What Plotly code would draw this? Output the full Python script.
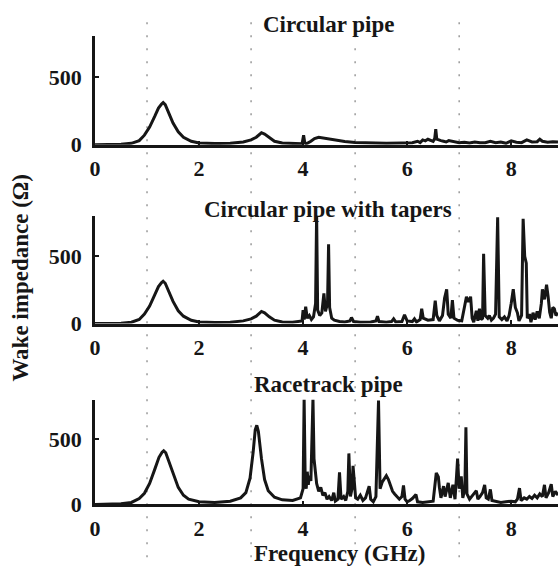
import plotly.graph_objects as go

# ---------------- data ----------------
panel_titles = ["Circular pipe", "Circular pipe with tapers", "Racetrack pipe"]
x_ticks = [0, 2, 4, 6, 8]
y_ticks = [0, 500]
guide_freqs = [1, 3, 5, 7]

freq_circ = [0, 0.3, 0.5, 0.7, 0.85, 0.95, 1.05, 1.15, 1.22, 1.28, 1.31, 1.35, 1.42, 1.5, 1.6,
             1.7, 1.85, 2.0, 2.3, 2.6, 2.85, 3.0, 3.1, 3.16, 3.2, 3.26, 3.35, 3.45, 3.6, 3.8,
             3.98, 4.01, 4.03, 4.05, 4.08, 4.15, 4.22, 4.3, 4.38, 4.5, 4.65, 4.8, 5.0, 5.3,
             5.6, 5.9, 6.1, 6.2, 6.25, 6.3, 6.35, 6.4, 6.45, 6.5, 6.53, 6.55, 6.57, 6.6, 6.65,
             6.7, 6.75, 6.8, 6.9, 7.0, 7.1, 7.2, 7.3, 7.4, 7.5, 7.6, 7.7, 7.8, 7.9, 8.0, 8.1,
             8.2, 8.3, 8.4, 8.5, 8.55, 8.6, 8.7, 8.8, 8.9]
imp_circ = [0, 1, 3, 10, 30, 70, 130, 210, 270, 300, 310, 295, 235, 160, 95,
            55, 25, 12, 8, 10, 20, 35, 55, 75, 88, 78, 50, 25, 12, 8,
            6, 70, 20, 8, 10, 25, 45, 55, 50, 42, 32, 24, 16, 12,
            10, 12, 15, 25, 15, 35, 28, 40, 30, 25, 45, 115, 40, 35, 30,
            25, 20, 30, 22, 15, 18, 12, 20, 14, 15, 25, 15, 20, 10, 28, 18,
            15, 35, 20, 22, 40, 25, 18, 22, 20]

freq_taper = [0, 0.3, 0.5, 0.7, 0.85, 0.95, 1.05, 1.15, 1.22, 1.28, 1.31, 1.35, 1.42, 1.5, 1.6,
              1.7, 1.85, 2.0, 2.3, 2.6, 2.85, 3.0, 3.1, 3.16, 3.2, 3.26, 3.35, 3.45, 3.6, 3.8,
              3.98, 4.0, 4.02, 4.05, 4.08, 4.12, 4.16, 4.2, 4.24, 4.26, 4.28, 4.32, 4.36, 4.4,
              4.43, 4.47, 4.49, 4.51, 4.55, 4.6, 4.7, 4.8, 4.9, 4.93, 4.97, 5.1, 5.3, 5.4, 5.43,
              5.46, 5.6, 5.7, 5.74, 5.78, 5.9, 5.95, 6.0, 6.1, 6.14, 6.18, 6.25, 6.28, 6.31,
              6.4, 6.5, 6.54, 6.57, 6.62, 6.68, 6.72, 6.76, 6.79, 6.84, 6.87, 6.9, 6.97, 7.05,
              7.1, 7.14, 7.18, 7.22, 7.25, 7.28, 7.33, 7.36, 7.39, 7.42, 7.45, 7.47, 7.5, 7.55,
              7.58, 7.62, 7.66, 7.7, 7.74, 7.77, 7.82, 7.87, 7.92, 7.96, 8.0, 8.04, 8.08, 8.12,
              8.15, 8.2, 8.23, 8.26, 8.29, 8.31, 8.35, 8.38, 8.42, 8.46, 8.5, 8.54, 8.58, 8.6,
              8.64, 8.68, 8.71, 8.74, 8.77, 8.8, 8.83, 8.86, 8.9]
imp_taper = [0, 1, 3, 10, 30, 70, 130, 215, 275, 305, 315, 300, 240, 165, 95,
             55, 25, 12, 8, 10, 20, 35, 55, 75, 90, 80, 50, 25, 12, 10,
             20, 100, 30, 125, 40, 60, 30, 50, 150, 820, 100, 60, 80, 225,
             90, 150, 590, 120, 40, 25, 15, 12, 20, 45, 15, 10, 12, 20, 55,
             15, 10, 15, 35, 12, 15, 65, 20, 15, 35, 12, 30, 110, 40,
             25, 30, 170, 60, 20, 60, 190, 255, 70, 40, 175, 40, 25, 20,
             120, 200, 160, 200, 40, 10, 95, 20, 110, 30, 40, 520, 60, 40,
             60, 25, 40, 70, 790, 50, 30, 50, 20, 60, 150, 255, 120, 80,
             20, 60, 780, 500, 450, 40, 70, 10, 80, 30, 90, 40, 150, 255,
             180, 290, 200, 85, 40, 120, 110, 60, 80]

freq_race = [0, 0.3, 0.5, 0.7, 0.85, 0.95, 1.05, 1.15, 1.23, 1.29, 1.32, 1.36, 1.44, 1.52, 1.6,
             1.7, 1.8, 2.0, 2.3, 2.6, 2.8, 2.9, 2.98, 3.04, 3.08, 3.11, 3.14, 3.2, 3.26, 3.33,
             3.45, 3.6, 3.8, 3.95, 4.0, 4.02, 4.04, 4.06, 4.08, 4.1, 4.12, 4.15, 4.17, 4.19,
             4.21, 4.23, 4.26, 4.3, 4.34, 4.38, 4.42, 4.46, 4.5, 4.55, 4.59, 4.62, 4.67, 4.7,
             4.73, 4.78, 4.82, 4.86, 4.88, 4.91, 4.94, 4.96, 4.98, 5.01, 5.05, 5.1, 5.15, 5.2,
             5.27, 5.3, 5.35, 5.4, 5.45, 5.48, 5.52, 5.56, 5.6, 5.64, 5.68, 5.72, 5.76, 5.8,
             5.85, 5.9, 5.93, 5.96, 6.0, 6.05, 6.1, 6.17, 6.2, 6.3, 6.4, 6.5, 6.56, 6.6, 6.62,
             6.65, 6.7, 6.73, 6.79, 6.83, 6.88, 6.92, 6.95, 6.97, 7.0, 7.04, 7.07, 7.11, 7.13,
             7.15, 7.2, 7.25, 7.3, 7.33, 7.36, 7.4, 7.45, 7.49, 7.52, 7.56, 7.6, 7.63, 7.7,
             7.8, 7.9, 8.0, 8.08, 8.12, 8.16, 8.19, 8.25, 8.3, 8.35, 8.4, 8.45, 8.5, 8.55,
             8.6, 8.64, 8.67, 8.72, 8.77, 8.8, 8.85, 8.9]
imp_race = [0, 2, 5, 15, 45, 85, 160, 270, 360, 400, 410, 395, 310, 210, 130,
            70, 40, 20, 15, 25, 50, 90, 200, 400, 570, 605, 560, 350, 190, 105,
            55, 35, 30, 50, 120, 810, 200, 120, 250, 150, 220, 180, 480, 810,
            350, 250, 160, 100, 130, 70, 90, 40, 60, 30, 90, 25, 40, 245,
            40, 60, 30, 100, 390, 60, 120, 295, 180, 50, 40, 70, 30, 50,
            140, 40, 20, 60, 795, 120, 170, 200, 220, 190, 140, 100, 80, 60,
            40, 60, 145, 40, 20, 30, 45, 75, 20, 15, 20, 25, 240, 210, 130,
            50, 140, 60, 165, 50, 150, 40, 220, 350, 120, 215, 50, 120, 590,
            80, 40, 70, 90, 105, 40, 60, 90, 150, 50, 40, 115, 30, 25,
            15, 20, 25, 20, 40, 125, 30, 50, 40, 60, 45, 70, 50, 80,
            60, 150, 50, 90, 155, 60, 100, 70]

series = [(freq_circ, imp_circ), (freq_taper, imp_taper), (freq_race, imp_race)]

# ---------------- layout helpers ----------------
W, H = 558, 579
L = 95
plot_w = W - L


def py(pix):
    return 1 - pix / H


def px(pix):
    return (pix - L) / plot_w


domains = [(py(148), py(37)), (py(331), py(221)), (py(516), py(409))]
title_y = [25, 214, 393]

FONT = "Liberation Serif"
ink = "#161616"

fig = go.Figure()
for i, (f, z) in enumerate(series):
    suf = "" if i == 0 else str(i + 1)
    fig.add_trace(go.Scatter(x=f, y=z, mode="lines",
                             line=dict(color=ink, width=3),
                             xaxis="x" + suf, yaxis="y" + suf,
                             showlegend=False, hoverinfo="skip"))

axis_common = dict(showline=True, linecolor=ink, linewidth=2.6, showgrid=False,
                   zeroline=False, ticks="inside", tickcolor=ink, tickwidth=2,
                   ticklen=4, tickfont=dict(family=FONT, size=22, color=ink, weight="bold"))

layout = dict(width=W, height=H, margin=dict(l=L, r=0, t=0, b=0),
              paper_bgcolor="white", plot_bgcolor="rgba(0,0,0,0)")
for i in range(3):
    suf = "" if i == 0 else str(i + 1)
    layout["xaxis" + suf] = dict(axis_common, range=[0, 8.9], tickvals=x_ticks,
                                 anchor="y" + suf, domain=[0, 1], ticklabelstandoff=2)
    layout["yaxis" + suf] = dict(axis_common, range=[0, 800], tickvals=y_ticks,
                                 anchor="x" + suf, domain=list(domains[i]),
                                 ticklabelstandoff=6)
fig.update_layout(**layout)

annotations = []
for i, t in enumerate(panel_titles):
    annotations.append(dict(text=t, xref="paper", yref="paper", x=px(328), y=py(title_y[i]),
                            xanchor="center", yanchor="middle", showarrow=False,
                            font=dict(family=FONT, size=23, color=ink, weight="bold")))
annotations.append(dict(text="Frequency (GHz)", xref="paper", yref="paper", x=px(339),
                        y=py(566), xanchor="center", yanchor="middle", showarrow=False,
                        font=dict(family=FONT, size=23, color=ink, weight="bold")))
annotations.append(dict(text="Wake impedance (\u03a9)", xref="paper", yref="paper", x=px(21),
                        y=py(284), xanchor="center", yanchor="middle", showarrow=False,
                        textangle=-90,
                        font=dict(family=FONT, size=23, color=ink, weight="bold")))
fig.update_layout(annotations=annotations)

shapes = []
for g in guide_freqs:
    shapes.append(dict(type="line", xref="x", yref="paper", x0=g, x1=g,
                       y0=py(570), y1=py(15), layer="below",
                       line=dict(color="#8a8a8a", width=1.3, dash="2px,11px")))
fig.update_layout(shapes=shapes)

fig.write_html("out.html")
